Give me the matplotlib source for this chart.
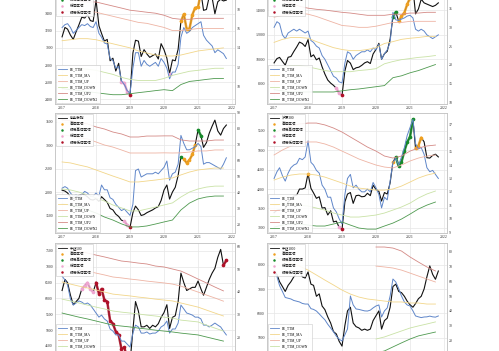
import matplotlib

matplotlib.use("Agg")
import matplotlib.pyplot as plt
import matplotlib.dates as mdates
from matplotlib.lines import Line2D
from matplotlib.ticker import MultipleLocator
import numpy as np
import pandas as pd

plt.rcParams["font.family"] = ["Liberation Serif", "Noto Sans CJK SC"]
plt.rcParams["axes.unicode_minus"] = False

MONTHS = pd.date_range("2017-01-01", "2021-11-01", freq="MS")
QUARTERS = pd.date_range("2017-01-01", "2021-10-01", freq="QS")
NAN = np.nan

NAMES = ["上证指数", "深证成指", "创业板指", "沪深300", "中证500", "中证1000"]
ZONE_LABELS = ["高估区域", "极端高估区域", "低估区域", "极端低估区域"]
PE_LABELS = ["PE_TTM", "PE_TTM_MA", "PE_TTM_UP", "PE_TTM_DOWN", "PE_TTM_UP2", "PE_TTM_DOWN2"]

# ---- 上证指数
SH_PRICE = [3130, 3240, 3220, 3150, 3100, 3190, 3270, 3360, 3350, 3390, 3320, 3310,
            3560, 3260, 3170, 3080, 3100, 2850, 2880, 2730, 2820, 2600, 2590, 2490,
            2450, 2940, 3090, 3080, 2900, 2980, 2930, 2890, 2910, 2930, 2870, 3050,
            2980, 2880, 2700, 2860, 2850, 2985, 3310, 3395, 3220, 3225, 3390, 3470,
            3480, 3650, 3440, 3450, 3600, 3590, 3400, 3540, 3570, 3550, 3560]
SH_PE = [16.1, 16.4, 16.5, 16.1, 15.5, 15.8, 16.1, 16.4, 16.3, 16.5, 16.2, 16.1,
         16.7, 15.5, 15.1, 14.5, 14.4, 12.9, 12.7, 11.9, 12.1, 10.6, 10.2, 9.6,
         9.3, 11.9, 13.5, 13.5, 12.1, 12.7, 12.3, 12.1, 12.3, 12.5, 12.1, 12.9,
         12.5, 11.9, 10.8, 11.5, 11.5, 12.3, 15.1, 16.1, 15.5, 15.7, 16.1, 16.3,
         16.5, 16.7, 15.3, 14.8, 14.5, 14.2, 13.5, 13.8, 13.6, 13.4, 12.9]
SH_MA = [14.74, 14.84, 14.95, 14.95, 14.84, 14.63, 14.42, 14.21, 14.0, 13.68,
         13.47, 13.26, 13.16, 13.16, 13.26, 13.47, 13.68, 13.79, 13.89, 14.0]
SH_UP = [17.79, 17.79, 17.79, 17.79, 17.68, 17.47, 17.26, 17.05, 16.84, 16.63,
         16.53, 16.32, 16.11, 15.79, 15.79, 15.89, 16.0, 16.0, 16.0, 16.0]
SH_DOWN = [11.68, 11.79, 11.89, 11.79, 11.68, 11.47, 11.26, 10.95, 10.74, 10.63,
           10.63, 10.63, 10.84, 11.16, 11.37, 11.58, 11.68, 11.79, 11.89, 11.89]
SH_UP2 = [19.05, 18.95, 18.84, 18.74, 18.74, 18.53, 18.32, 18.11, 17.89, 17.79,
          17.68, 17.58, 17.37, 17.05, 16.95, 16.95, 17.05, 17.05, 17.05, 17.05]
SH_DOWN2 = [9.79, 9.68, 9.58, 9.47, 9.37, 9.26, 9.16, 9.16, 9.26, 9.37,
            9.47, 9.58, 9.68, 9.58, 10.21, 10.53, 10.63, 10.74, 10.84, 10.84]
SH_ZONE = "............" ".........lll" "L..........." "..l...hhhhhh" "hh........."

# ---- 深证成指
SZ_PRICE = [9700, 10050, 10150, 9820, 9520, 10160, 10220, 10630, 11000, 11400, 11280, 11040,
            11600, 10200, 10360, 9950, 10100, 9380, 8790, 8300, 8050, 7870, 7630, 7240,
            7050, 9050, 9900, 9680, 9150, 9300, 9350, 9500, 9700, 9800, 9650, 10430,
            10800, 11300, 10000, 10450, 10650, 11650, 13450, 13850, 13100, 13500, 13800, 14470,
            15000, 15800, 13700, 14100, 14900, 14600, 14500, 14400, 14300, 14400, 14600]
SZ_PE = [30.0, 31.5, 31.0, 28.0, 27.0, 28.5, 29.0, 29.5, 29.0, 29.5, 29.0, 28.5,
         29.0, 26.5, 26.0, 25.0, 24.5, 22.5, 21.5, 20.0, 18.5, 17.0, 16.5, 15.5,
         15.2, 20.5, 23.5, 23.0, 21.5, 22.5, 23.0, 23.5, 23.5, 24.0, 23.5, 24.5,
         24.0, 25.5, 21.5, 23.0, 24.0, 26.0, 34.0, 32.0, 31.8, 32.2, 32.5, 33.0,
         33.2, 32.5, 29.5, 29.0, 29.5, 29.0, 28.0, 27.5, 27.0, 27.5, 28.0]
SZ_MA = [26.0, 26.8, 27.3, 27.3, 27.1, 26.2, 25.4, 24.6, 24.1, 23.8,
         23.8, 24.1, 24.6, 25.7, 26.2, 26.8, 27.1, 27.3, 27.6, 27.6]
SZ_UP = [32.7, 33.2, 33.5, 33.8, 33.5, 32.9, 32.1, 31.3, 30.5, 30.3,
         30.0, 30.0, 30.3, 30.8, 31.3, 31.3, 31.6, 31.6, 31.6, 31.6]
SZ_DOWN = [18.7, 19.3, 19.8, 19.8, 19.5, 19.0, 18.5, 18.2, 18.2, 18.2,
           18.5, 18.7, 19.0, 20.3, 20.9, 21.4, 21.7, 22.0, 22.2, 22.5]
SZ_UP2 = [38.0, 37.2, 36.4, 35.6, 35.1, 34.8, 34.6, 34.3, 34.0, 33.8,
          33.5, 33.2, 33.2, 33.2, 33.5, 33.5, 33.8, 33.8, 34.0, 34.0]
SZ_DOWN2 = [13.4, 13.1, 12.8, 12.8, 12.8, 12.8, 12.8, 12.8, 13.1, 13.4,
            13.6, 13.9, 14.2, 14.5, 16.6, 17.1, 17.9, 18.5, 19.3, 20.1]
SZ_ZONE = "............" "..........ll" "L..........." "......HHhhhh" "hh........."

# ---- 创业板指
CY_PRICE = [2040, 2020, 1980, 1900, 1860, 1900, 1930, 1950, 1940, 1900, 1840, 1830,
            1860, 1800, 1900, 1840, 1780, 1650, 1620, 1530, 1480, 1400, 1380, 1300,
            1250, 1560, 1700, 1620, 1500, 1520, 1560, 1590, 1620, 1660, 1690, 1820,
            2040, 2150, 1850, 2000, 2100, 2350, 2750, 2700, 2620, 2680, 2800, 3000,
            3320, 3200, 2950, 3050, 3250, 3400, 3530, 3300, 3210, 3350, 3425]
CY_PE = [43, 44, 43, 40, 38, 39, 37, 39, 41, 40, 38, 38,
         40, 38, 45, 42, 42, 37, 36, 33, 31, 29, 30, 28,
         26, 33, 54, 55, 50, 51, 52, 52, 52, 53, 52, 54,
         56, 60, 48, 52, 53, 58, 76, 71, 67, 67, 68, 69,
         71, 69, 58, 59, 59, 58, 57, 56, 55, 58, 62]
CY_MA = [59.4, 58.8, 57.5, 56.3, 54.4, 52.5, 50.6, 48.8, 46.9, 46.9,
         47.5, 48.1, 48.8, 49.4, 51.3, 53.1, 54.4, 55.0, 55.6, 55.6]
CY_UP = [76.3, 75.7, 74.4, 73.8, 71.9, 70.0, 68.7, 66.9, 65.0, 65.0,
         65.0, 65.0, 65.1, 65.0, 65.1, 65.6, 66.3, 66.3, 66.9, 66.9]
CY_DOWN = [42.5, 41.9, 40.6, 38.8, 36.9, 35.0, 32.5, 30.7, 28.8, 28.8,
           30.0, 31.2, 32.5, 33.8, 37.5, 40.6, 42.5, 43.7, 44.3, 44.3]
CY_UP2 = [85.7, 85.1, 83.8, 83.2, 81.3, 80.0, 78.1, 76.9, 75.0, 75.0,
          75.6, 75.6, 75.7, 75.7, 73.2, 72.5, 72.5, 72.5, 73.1, 73.1]
CY_DOWN2 = [33.1, 32.5, 31.2, 29.4, 27.5, 25.0, 23.1, 20.7, 18.8, 18.8,
            19.4, 20.6, 21.9, 23.1, 29.4, 33.7, 36.3, 37.5, 38.1, 38.1]
CY_ZONE = "............" "..........ll" "L..........." "......Hhhhhh" "HH........."

# ---- 沪深300
HS_PRICE = [3390, 3450, 3460, 3440, 3490, 3670, 3740, 3820, 3840, 4000, 4000, 4030,
            4400, 4020, 3900, 3760, 3800, 3510, 3520, 3330, 3440, 3150, 3170, 3010,
            2960, 3670, 3870, 3910, 3630, 3830, 3840, 3800, 3810, 3890, 3830, 4100,
            3990, 3940, 3690, 3910, 3870, 4160, 4700, 4820, 4590, 4700, 4980, 5210,
            5350, 5800, 5050, 5120, 5330, 5220, 4810, 4800, 4870, 4900, 4830]
HS_PE = [13.0, 13.5, 13.8, 13.2, 12.8, 13.4, 13.8, 14.0, 14.1, 14.5, 14.4, 14.6,
         15.8, 14.2, 14.0, 13.6, 13.4, 12.5, 12.2, 11.6, 11.6, 10.8, 10.5, 10.0,
         9.6, 11.8, 13.0, 13.3, 12.3, 12.5, 12.2, 12.0, 12.0, 12.2, 12.0, 12.7,
         12.3, 11.8, 10.8, 11.6, 11.4, 12.8, 14.2, 14.5, 14.0, 14.6, 15.3, 16.2,
         16.8, 17.4, 15.6, 15.2, 15.3, 14.8, 13.8, 13.5, 13.6, 13.3, 13.0]
HS_MA = [12.88, 13.10, 13.25, 13.33, 13.33, 13.25, 13.10, 12.88, 12.66, 12.43,
         12.28, 12.21, 12.13, 12.13, 12.21, 12.43, 12.73, 13.03, 13.25, 13.40]
HS_UP = [14.75, 15.12, 15.42, 15.64, 15.72, 15.72, 15.57, 15.34, 15.04, 14.75,
         14.45, 14.22, 14.0, 13.85, 13.78, 14.0, 14.30, 14.52, 14.67, 14.75]
HS_DOWN = [11.01, 11.09, 11.09, 11.01, 10.94, 10.79, 10.64, 10.42, 10.27, 10.12,
           10.12, 10.19, 10.27, 10.42, 10.64, 10.87, 11.16, 11.54, 11.84, 12.06]
HS_UP2 = [16.39, 16.69, 16.91, 17.06, 17.13, 17.13, 16.99, 16.76, 16.46, 16.09,
          15.72, 15.34, 15.04, 14.67, 14.52, 14.67, 15.04, 15.27, 15.42, 15.49]
HS_DOWN2 = [9.37, 9.52, 9.60, 9.60, 9.52, 9.45, 9.45, 9.60, 9.75, 9.52,
            9.30, 9.22, 9.22, 9.45, 9.67, 9.97, 10.34, 10.72, 11.01, 11.24]
HS_ZONE = "............" "h..........l" "L..........." "......hHHHHH" "HHhhh......"

# ---- 中证500
Z5_PRICE = [6250, 6600, 6500, 6100, 5800, 5900, 6000, 6300, 6400, 6500, 6300, 6200,
            6500, 6150, 6300, 5950, 5900, 5300, 5200, 4950, 4850, 4400, 4450, 4100,
            3950, 5000, 5900, 5600, 5100, 5100, 5150, 5050, 5150, 5100, 5200, 5400,
            5550, 5800, 5050, 5400, 5450, 5900, 6800, 6500, 6250, 6300, 6350, 6350,
            6550, 6300, 6100, 6350, 6600, 6800, 6950, 7300, 7550, 7050, 7200]
Z5_PE = [46.9, 45.2, 43.0, 36.8, 34.2, 35.1, 36.0, 35.5, 34.6, 35.1, 34.2, 32.5,
         30.7, 28.9, 29.8, 28.1, 27.2, 23.7, 22.8, 21.1, 21.1, 18.4, 18.4, 17.1,
         15.8, 21.9, 25.4, 24.6, 21.9, 21.9, 22.4, 21.5, 21.9, 21.9, 22.8, 24.6,
         25.4, 27.2, 21.9, 23.7, 23.7, 26.3, 34.2, 32.5, 30.7, 30.3, 29.8, 28.9,
         28.9, 28.1, 25.4, 25.4, 24.6, 25.4, 26.3, 25.4, 24.6, 22.8, 21.1]
Z5_MA = [44.3, 43.4, 42.5, 41.7, 40.8, 39.9, 39.0, 38.6, 38.2, 37.7,
         37.3, 36.8, 36.4, 36.0, 35.1, 34.2, 33.3, 32.0, 30.7, 29.4]
Z5_UP = [51.8, 50.9, 50.0, 49.1, 48.2, 47.4, 46.5, 46.1, 45.6, 45.2,
         44.7, 44.3, 43.9, 43.4, 42.5, 41.2, 39.9, 38.6, 37.3, 35.9]
Z5_DOWN = [36.8, 36.0, 35.1, 34.2, 33.3, 32.5, 31.6, 31.1, 30.7, 30.3,
           29.8, 29.4, 28.9, 28.5, 27.6, 27.2, 26.8, 25.4, 24.1, 22.8]
Z5_UP2 = [59.6, 58.8, 57.9, 57.0, 56.1, 55.3, 54.4, 53.5, 53.1, 52.6,
          52.2, 51.3, 50.9, 50.0, 49.1, 47.4, 45.6, 43.9, 42.1, 40.4]
Z5_DOWN2 = [30.7, 29.8, 28.9, 28.1, 27.2, 26.3, 25.4, 25.0, 24.6, 24.1,
            23.7, 23.2, 22.8, 22.4, 21.9, 21.5, 21.1, 20.2, 19.3, 18.4]
Z5_ZONE = ".......lllll" "LLLLLLLLLLLL" "L..........." "............" ".........LL"

# ---- 中证1000
Z1_PRICE = [7740, 7600, 7300, 7100, 6900, 7150, 7300, 7500, 7650, 7750, 7500, 7450,
            7700, 7200, 7150, 6700, 6800, 6300, 6150, 5850, 5600, 5250, 5150, 4850,
            4650, 5500, 6100, 6250, 5600, 5450, 5400, 5300, 5350, 5300, 5350, 5700,
            5900, 6100, 5350, 5700, 5800, 6250, 7100, 7200, 6900, 6850, 6700, 6500,
            6350, 6250, 6400, 6600, 6700, 7000, 7500, 7950, 7600, 7400, 7740]
Z1_PE = [66.1, 63.0, 57.0, 53.0, 49.0, 48.5, 48.0, 47.0, 46.5, 46.0, 45.0, 44.6,
         44.6, 41.5, 41.0, 39.9, 38.0, 35.9, 34.0, 31.0, 28.5, 26.0, 23.0, 21.0,
         19.8, 24.0, 27.9, 50.0, 44.0, 41.3, 41.0, 40.5, 40.0, 39.9, 40.5, 42.0,
         43.3, 44.0, 35.9, 40.0, 42.0, 50.0, 61.4, 59.4, 55.0, 50.0, 46.0, 44.0,
         43.3, 40.0, 36.6, 36.0, 35.5, 35.9, 36.0, 36.5, 36.0, 35.8, 36.6]
Z1_MA = [76.2, 74.2, 72.1, 70.1, 67.4, 64.1, 60.7, 57.4, 54.0, 51.3,
         49.3, 48.0, 47.3, 46.6, 46.0, 46.0, 45.3, 45.3, 44.6, 44.6]
Z1_UP = [NAN] * 12 + [70.1, 69.5, 68.8, 67.4, 65.4, 63.4, 61.4, 59.4]
Z1_DOWN = [NAN] * 12 + [21.1, 22.5, 24.5, 26.5, 28.5, 29.9, 31.2, 32.6]
Z1_UP2 = [NAN] * 12 + [82.9, 82.9, 82.2, 80.2, 76.2, 72.8, 69.5, 66.8]
Z1_DOWN2 = [NAN] * 12 + [11.7, 13.1, 15.8, 18.5, 21.1, 23.2, 24.5, 25.8]
Z1_ZONE = "............" "............" "............" "............" "..........."

INK = "#111111"
PE_COL = "#5f86c9"
BAND_COLS = {"MA": "#f2d68a", "UP": "#eeb4a4", "DOWN": "#c9e2a6", "UP2": "#d48a86", "DOWN2": "#4f9a50"}
ZONE_COLS = {"h": "#f0a020", "H": "#168a2a", "l": "#eea6d0", "L": "#b01028"}
GRID, SPINE, TICK = "#e6e6e6", "#c4c4c4", "#333333"

W, H = 499, 351
COLS_X = [55, 267]
ROWS = [(-17, 121), (113, 120), (243, 120)]  # (top px, height px)
AX_W = 180

PANELS = [
    dict(name=NAMES[0], price=SH_PRICE, pe=SH_PE, ma=SH_MA, up=SH_UP, down=SH_DOWN,
         up2=SH_UP2, down2=SH_DOWN2, zone=SH_ZONE, ylim=(2344, 3760), ystep=200,
         ylim2=(8.2, 20.7), ystep2=2),
    dict(name=NAMES[1], price=SZ_PRICE, pe=SZ_PE, ma=SZ_MA, up=SZ_UP, down=SZ_DOWN,
         up2=SZ_UP2, down2=SZ_DOWN2, zone=SZ_ZONE, ylim=(6346, 16222), ystep=2000,
         ylim2=(9.6, 41.8), ystep2=5),
    dict(name=NAMES[2], price=CY_PRICE, pe=CY_PE, ma=CY_MA, up=CY_UP, down=CY_DOWN,
         up2=CY_UP2, down2=CY_DOWN2, zone=CY_ZONE, ylim=(1128, 3681), ystep=500,
         ylim2=(15, 90), ystep2=10),
    dict(name=NAMES[3], price=HS_PRICE, pe=HS_PE, ma=HS_MA, up=HS_UP, down=HS_DOWN,
         up2=HS_UP2, down2=HS_DOWN2, zone=HS_ZONE, ylim=(2864, 5965), ystep=500,
         ylim2=(8.93, 17.88), ystep2=1),
    dict(name=NAMES[4], price=Z5_PRICE, pe=Z5_PE, ma=Z5_MA, up=Z5_UP, down=Z5_DOWN,
         up2=Z5_UP2, down2=Z5_DOWN2, zone=Z5_ZONE, ylim=(3956, 7753), ystep=500,
         ylim2=(8.8, 61.4), ystep2=10),
    dict(name=NAMES[5], price=Z1_PRICE, pe=Z1_PE, ma=Z1_MA, up=Z1_UP, down=Z1_DOWN,
         up2=Z1_UP2, down2=Z1_DOWN2, zone=Z1_ZONE, ylim=(3955, 8893), ystep=1000,
         ylim2=(5, 85.6), ystep2=10),
]


def runs(zone):  # consecutive months sharing a zone code -> (code, start, stop)
    out, start = [], 0
    for i in range(1, len(zone) + 1):
        if i == len(zone) or zone[i] != zone[start]:
            if zone[start] != ".":
                out.append((zone[start], start, i))
            start = i
    return out


def draw(fig, p, x0, top, height):
    ax = fig.add_axes([x0 / W, 1 - (top + height) / H, AX_W / W, height / H])
    ax2 = ax.twinx()
    price = np.asarray(p["price"], float)

    ax.plot(MONTHS, price, color=INK, lw=0.8)
    for code, a, b in runs(p["zone"]):
        col = ZONE_COLS[code]
        if b - a > 1:
            ax.plot(MONTHS[a:b], price[a:b], color=col, lw=1.8, alpha=0.85,
                    solid_capstyle="round", zorder=3)
        ax.scatter(MONTHS[a:b], price[a:b], s=7, color=col, lw=0, zorder=4)

    ax2.plot(MONTHS, p["pe"], color=PE_COL, lw=0.7)
    for key in ("ma", "up", "down", "up2", "down2"):
        ax2.plot(QUARTERS, p[key], color=BAND_COLS[key.upper()], lw=0.6)

    ax.set_xlim(pd.Timestamp("2016-10-17"), pd.Timestamp("2022-02-02"))
    ax.set_ylim(*p["ylim"])
    ax2.set_ylim(*p["ylim2"])
    ax.yaxis.set_major_locator(MultipleLocator(p["ystep"]))
    ax2.yaxis.set_major_locator(MultipleLocator(p["ystep2"]))
    ax.xaxis.set_major_locator(mdates.YearLocator())
    ax.xaxis.set_major_formatter(mdates.DateFormatter("%Y"))
    ax.grid(True, color=GRID, lw=0.5)
    ax.set_axisbelow(True)
    for a in (ax, ax2):
        a.tick_params(length=0, pad=1.5, labelsize=2.8, colors=TICK)
        for s in a.spines.values():
            s.set_color(SPINE)
            s.set_linewidth(0.5)

    h1 = [Line2D([], [], color=INK, lw=0.6)] + [
        Line2D([], [], ls="", marker="o", ms=1.8, mew=0, color=ZONE_COLS[c]) for c in "hHlL"]
    h2 = [Line2D([], [], color=PE_COL, lw=0.6)] + [
        Line2D([], [], color=BAND_COLS[k], lw=0.6) for k in ("MA", "UP", "DOWN", "UP2", "DOWN2")]
    kw = dict(fontsize=2.6, frameon=True, fancybox=False, edgecolor=SPINE, framealpha=0.9,
              borderaxespad=0.3, handlelength=2.4, handletextpad=0.8, borderpad=0.5)
    leg1 = ax2.legend(h1, [p["name"]] + ZONE_LABELS, loc="upper left", labelspacing=0.6, **kw)
    leg1.get_frame().set_linewidth(0.4)
    ax2.add_artist(leg1)
    leg2 = ax2.legend(h2, PE_LABELS, loc="lower left", labelspacing=0.55, **kw)
    leg2.get_frame().set_linewidth(0.4)


fig = plt.figure(figsize=(W / 100, H / 100), dpi=100)
for i, p in enumerate(PANELS):
    top, height = ROWS[i // 2]
    draw(fig, p, COLS_X[i % 2], top, height)
fig.savefig("out.png", dpi=100)
